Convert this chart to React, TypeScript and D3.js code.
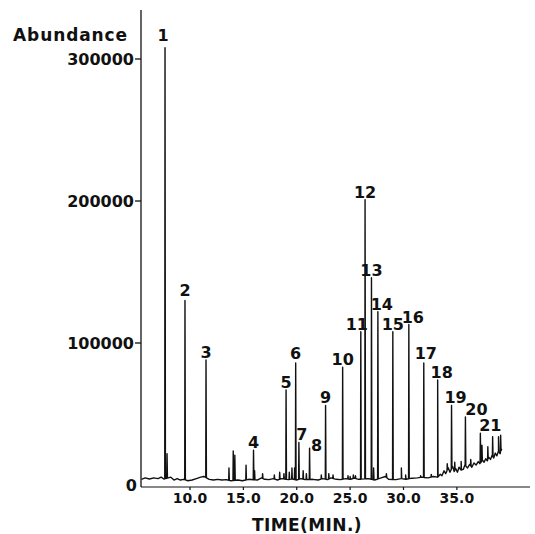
import React from "react";
import * as d3 from "d3";

// ---- Data ----
const peakLabels = ["1","2","3","4","5","6","7","8","9","10","11","12","13","14","15","16","17","18","19","20","21"];
const peakTimes = [7.66, 9.53, 11.5, 15.95, 19.0, 19.9, 20.2, 21.2, 22.7, 24.3, 26.0, 26.4, 27.0, 27.6, 29.0, 30.5, 31.9, 33.2, 34.5, 35.8, 37.2];
const peakHeights = [308000, 130000, 88000, 24500, 67000, 86000, 30000, 26000, 56000, 83000, 108000, 201000, 146000, 122000, 108000, 113000, 86000, 74000, 56000, 48000, 36500];

const minorTimes = [7.85, 13.65, 14.05, 14.2, 15.25, 16.05, 16.8, 17.9, 18.4, 18.8, 19.3, 19.55, 19.8, 20.6, 20.9, 22.3, 23.0, 23.4, 24.8, 25.0, 25.3, 25.5, 27.2, 28.4, 29.8, 30.2, 31.6, 32.6, 34.1, 34.8, 35.4, 36.3, 37.35, 37.9, 38.35, 38.9, 39.1];
const minorHeights = [22000, 12000, 24000, 21000, 14000, 10000, 8000, 7000, 9000, 8000, 9000, 12000, 12000, 10000, 8000, 7000, 8000, 7000, 6500, 6000, 7000, 6500, 12000, 8000, 12000, 7000, 6500, 7500, 15000, 16000, 16500, 18000, 28000, 27000, 34000, 34000, 35000];

const baseTimes = [5.45, 5.8, 6.2, 6.6, 7.0, 7.3, 7.55, 8.2, 8.5, 8.8, 9.1, 9.4, 9.8, 10.2, 10.6, 11.0, 11.3, 11.8, 12.2, 12.6, 13.0, 13.4, 13.8, 14.5, 14.9, 15.5, 16.3, 16.7, 17.0, 17.4, 17.8, 18.2, 18.6, 19.2, 19.6, 20.0, 20.4, 20.8, 21.5, 22.0, 22.4, 22.9, 23.2, 23.7, 24.1, 24.6, 25.0, 25.4, 25.8, 26.7, 27.3, 27.9, 28.3, 28.6, 29.3, 29.8, 30.2, 30.8, 31.3, 31.7, 32.3, 32.8, 33.2, 33.45, 33.6, 33.8, 33.95, 34.2, 34.35, 34.6, 34.75, 34.9, 35.05, 35.2, 35.4, 35.6, 35.75, 36.0, 36.2, 36.4, 36.6, 36.8, 37.0, 37.15, 37.4, 37.55, 37.7, 37.85, 38.0, 38.15, 38.3, 38.45, 38.6, 38.75, 38.9, 39.05, 39.2];
const baseValues = [4000, 5000, 4200, 5000, 4500, 5500, 4200, 5500, 3500, 4500, 3500, 4000, 3000, 3500, 4500, 5500, 6000, 4000, 3500, 4000, 3500, 3800, 3000, 3500, 3000, 4000, 3500, 5000, 4000, 3800, 4500, 3500, 4500, 3800, 4200, 3500, 4500, 3800, 4000, 3500, 4500, 3800, 5000, 4000, 3800, 4500, 4000, 4800, 4000, 4500, 3500, 5000, 6000, 4000, 3800, 4500, 4000, 4800, 5000, 5500, 5000, 6000, 5500, 7500, 6500, 10000, 8000, 12000, 9000, 13000, 9500, 11500, 9000, 12500, 10500, 11000, 14000, 12000, 14500, 12500, 15500, 14000, 16500, 15000, 17500, 16000, 18500, 17000, 19500, 18000, 21000, 19000, 22500, 20500, 24000, 22000, 25500];

const yTicks = [0, 100000, 200000, 300000];
const xTicks = [10, 15, 20, 25, 30, 35];

const labelDx: Record<string, number> = { "1": -2, "7": 3, "8": 7, "11": -4, "14": 4, "16": 4, "17": 2, "18": 4, "19": 4, "20": 11, "21": 10 };
const labelDy: Record<string, number> = { "1": -5, "2": -2, "6": -2, "8": 5, "17": -2 };

const W = 535, H = 534;
const FONT = "'DejaVu Sans', sans-serif";

export default function App() {
  const x = d3.scaleLinear().domain([5.41, 41.85]).range([141, 530]);
  const y = d3.scaleLinear().domain([0, 300000]).range([485, 59]);

  const baseAt = (t: number) => {
    const i = d3.bisectLeft(baseTimes, t);
    if (i <= 0) return baseValues[0];
    if (i >= baseTimes.length) return baseValues[baseValues.length - 1];
    const t0 = baseTimes[i - 1], t1 = baseTimes[i];
    const f = (t - t0) / (t1 - t0);
    return baseValues[i - 1] + f * (baseValues[i] - baseValues[i - 1]);
  };

  const pts: [number, number][] = baseTimes.map((t, i) => [t, baseValues[i]]);
  const addSpike = (t: number, h: number, w: number) => {
    pts.push([t - w, baseAt(t - w)]);
    pts.push([t, h]);
    pts.push([t + w * 1.5, baseAt(t + w * 1.5)]);
  };
  peakTimes.forEach((t, i) => addSpike(t, peakHeights[i], 0.025));
  minorTimes.forEach((t, i) => addSpike(t, minorHeights[i], 0.025));
  pts.sort((a, b) => a[0] - b[0]);

  const line = d3.line<[number, number]>().x(d => x(d[0])).y(d => y(d[1]));
  const fmtX = d3.format(".1f");

  return (
    <svg width={W} height={H} style={{ position: "absolute", left: 0, top: 0, background: "#fff" }}>
      <rect x={0} y={0} width={W} height={H} fill="#fff" />
      {/* y axis */}
      <line x1={141} x2={141} y1={10} y2={487} stroke="#111" strokeWidth={1.3} />
      {yTicks.map(v => (
        <g key={v}>
          {v > 0 && <line x1={135} x2={141} y1={y(v)} y2={y(v)} stroke="#111" strokeWidth={1.3} />}
          <text x={v === 0 ? 137 : 134} y={y(v) + 6} textAnchor="end" fontFamily={FONT} fontWeight="bold" fontSize={16} fill="#111">{v}</text>
        </g>
      ))}
      <text x={128} y={41} textAnchor="end" fontFamily={FONT} fontWeight="bold" fontSize={17} letterSpacing={0.9} fill="#111">Abundance</text>
      {/* x axis */}
      <line x1={141} x2={530} y1={487} y2={487} stroke="#111" strokeWidth={1.2} />
      {xTicks.map(v => (
        <g key={v}>
          <line x1={x(v)} x2={x(v)} y1={487} y2={490} stroke="#111" strokeWidth={1.2} />
          <text x={x(v)} y={503} textAnchor="middle" fontFamily={FONT} fontWeight="bold" fontSize={14} fill="#111">{fmtX(v)}</text>
        </g>
      ))}
      <text x={307} y={531} textAnchor="middle" fontFamily={FONT} fontWeight="bold" fontSize={17} letterSpacing={0.4} fill="#111">TIME(MIN.)</text>
      {/* trace */}
      <path d={line(pts) || ""} fill="none" stroke="#111" strokeWidth={1.4} strokeLinejoin="round" />
      {/* peak labels */}
      {peakLabels.map((lab, i) => (
        <text key={lab} x={x(peakTimes[i]) + (labelDx[lab] || 0)} y={y(peakHeights[i]) - 2 + (labelDy[lab] || 0)}
          textAnchor="middle" fontFamily={FONT} fontWeight="bold" fontSize={16} fill="#111">{lab}</text>
      ))}
    </svg>
  );
}
